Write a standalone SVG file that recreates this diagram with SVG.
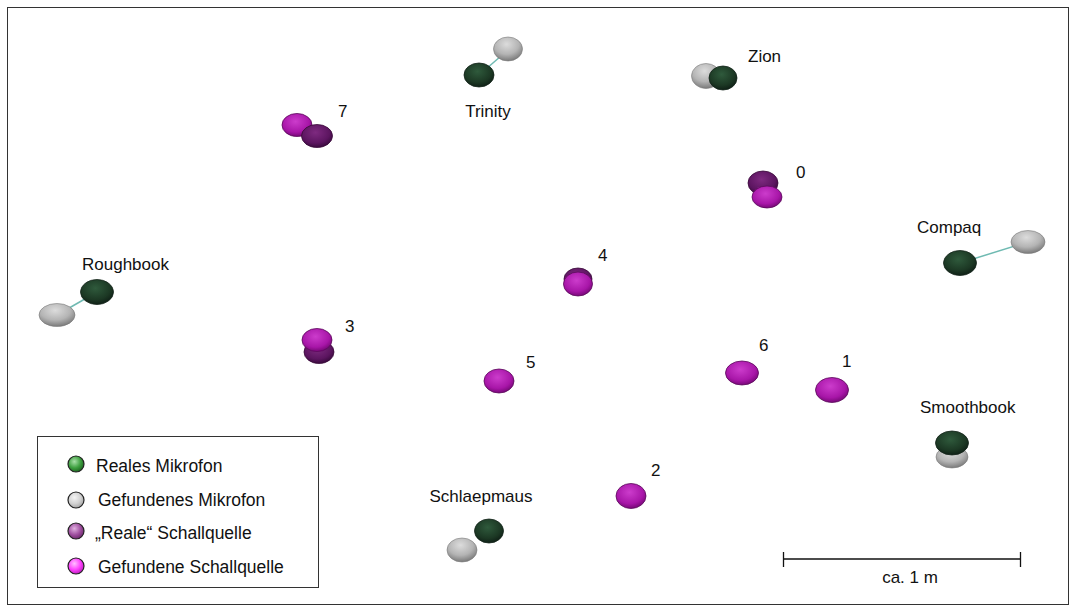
<svg xmlns="http://www.w3.org/2000/svg" width="1070" height="615" viewBox="0 0 1070 615">
  <style>
    text { font-family: "Liberation Sans", Arial, sans-serif; font-size: 17px; fill: #111; }
    .lbl { text-anchor: middle; }
    .legtxt { font-size: 17.5px; }
    .link { stroke: #6fbab2; stroke-width: 1.5; }
    .mic { fill: url(#gMic); stroke: #14241a; stroke-width: 0.8; }
    .found { fill: url(#gFound); stroke: #7a7a7a; stroke-width: 0.6; }
    .src { fill: url(#gSrc); stroke: #3a0a3a; stroke-width: 0.8; }
    .fsrc { fill: url(#gFsrc); stroke: #5a0a5a; stroke-width: 0.8; }
    .leg { stroke: #222; stroke-width: 1.2; }
  </style>
  <defs>
    <radialGradient id="gMic" cx="0.45" cy="0.35" r="0.65">
      <stop offset="0" stop-color="#2f5a3c"/>
      <stop offset="0.7" stop-color="#1c3824"/>
      <stop offset="1" stop-color="#0f2016"/>
    </radialGradient>
    <radialGradient id="gFound" cx="0.45" cy="0.3" r="0.7">
      <stop offset="0" stop-color="#dcdcdc"/>
      <stop offset="0.6" stop-color="#b4b4b4"/>
      <stop offset="1" stop-color="#7a7a7a"/>
    </radialGradient>
    <radialGradient id="gSrc" cx="0.45" cy="0.35" r="0.65">
      <stop offset="0" stop-color="#7e2a80"/>
      <stop offset="0.7" stop-color="#5c1560"/>
      <stop offset="1" stop-color="#3a0a3e"/>
    </radialGradient>
    <radialGradient id="gFsrc" cx="0.45" cy="0.35" r="0.65">
      <stop offset="0" stop-color="#cc3ccc"/>
      <stop offset="0.7" stop-color="#a816a8"/>
      <stop offset="1" stop-color="#780878"/>
    </radialGradient>
    <radialGradient id="lgGreen" cx="0.4" cy="0.35" r="0.65">
      <stop offset="0" stop-color="#a8e0a8"/>
      <stop offset="0.6" stop-color="#3ea040"/>
      <stop offset="1" stop-color="#1f6a22"/>
    </radialGradient>
    <radialGradient id="lgGray" cx="0.4" cy="0.35" r="0.65">
      <stop offset="0" stop-color="#f4f4f4"/>
      <stop offset="0.6" stop-color="#d2d2d2"/>
      <stop offset="1" stop-color="#a8a8a8"/>
    </radialGradient>
    <radialGradient id="lgPurple" cx="0.4" cy="0.35" r="0.65">
      <stop offset="0" stop-color="#e0b0e0"/>
      <stop offset="0.6" stop-color="#a050a0"/>
      <stop offset="1" stop-color="#702a70"/>
    </radialGradient>
    <radialGradient id="lgPink" cx="0.4" cy="0.35" r="0.65">
      <stop offset="0" stop-color="#ffc0ff"/>
      <stop offset="0.6" stop-color="#ff40ff"/>
      <stop offset="1" stop-color="#c020c0"/>
    </radialGradient>
  </defs>

  <rect x="0" y="0" width="1070" height="615" fill="#fff"/>
  <rect x="7.5" y="7.5" width="1061" height="597" fill="none" stroke="#333" stroke-width="1"/>

  <!-- links between real and found microphones -->
  <g id="connectors">
    <line class="link" x1="479" y1="75" x2="508" y2="50"/>
    <line class="link" x1="960" y1="263" x2="1028" y2="242"/>
    <line class="link" x1="97" y1="292" x2="57" y2="315"/>
  </g>

  <!-- microphones -->
  <g id="trinity">
    <ellipse class="found" cx="508" cy="49" rx="14.5" ry="12"/>
    <ellipse class="mic" cx="479" cy="75" rx="15" ry="12"/>
    <text class="lbl" x="488" y="117">Trinity</text>
  </g>
  <g id="zion">
    <ellipse class="found" cx="706" cy="76" rx="14.5" ry="12.5"/>
    <ellipse class="mic" cx="723" cy="78" rx="14" ry="12"/>
    <text x="748" y="62">Zion</text>
  </g>
  <g id="compaq">
    <ellipse class="found" cx="1028" cy="242" rx="17" ry="11.5"/>
    <ellipse class="mic" cx="960" cy="263" rx="16.5" ry="12.5"/>
    <text x="917" y="233">Compaq</text>
  </g>
  <g id="roughbook">
    <ellipse class="mic" cx="97" cy="292" rx="16.5" ry="12.5"/>
    <ellipse class="found" cx="57" cy="315" rx="18" ry="11.5"/>
    <text x="82" y="270">Roughbook</text>
  </g>
  <g id="smoothbook">
    <ellipse class="found" cx="952" cy="457" rx="16" ry="11"/>
    <ellipse class="mic" cx="952" cy="443" rx="16.5" ry="12"/>
    <text x="920" y="413">Smoothbook</text>
  </g>
  <g id="schlaepmaus">
    <ellipse class="found" cx="462" cy="550" rx="15" ry="12"/>
    <ellipse class="mic" cx="489" cy="531" rx="14.5" ry="12"/>
    <text class="lbl" x="481" y="502">Schlaepmaus</text>
  </g>

  <!-- sound sources -->
  <g id="src7">
    <ellipse class="fsrc" cx="297" cy="125" rx="15" ry="11.5"/>
    <ellipse class="src" cx="317" cy="136" rx="15.5" ry="11.5"/>
    <text x="338" y="117">7</text>
  </g>
  <g id="src0">
    <ellipse class="src" cx="763" cy="183" rx="15" ry="12"/>
    <ellipse class="fsrc" cx="767" cy="197" rx="15" ry="11"/>
    <text x="796" y="178">0</text>
  </g>
  <g id="src4">
    <ellipse class="src" cx="578" cy="279" rx="14" ry="11"/>
    <ellipse class="fsrc" cx="578" cy="284" rx="14.5" ry="12"/>
    <text x="598" y="261">4</text>
  </g>
  <g id="src3">
    <ellipse class="src" cx="319" cy="352" rx="15" ry="11.5"/>
    <ellipse class="fsrc" cx="317" cy="340" rx="15" ry="11.5"/>
    <text x="345" y="332">3</text>
  </g>
  <g id="src5">
    <ellipse class="fsrc" cx="499" cy="381" rx="15" ry="12"/>
    <text x="526" y="368">5</text>
  </g>
  <g id="src6">
    <ellipse class="fsrc" cx="742" cy="373" rx="16.5" ry="12"/>
    <text x="759" y="351">6</text>
  </g>
  <g id="src1">
    <ellipse class="fsrc" cx="832" cy="390" rx="16.5" ry="12.5"/>
    <text x="842" y="367">1</text>
  </g>
  <g id="src2">
    <ellipse class="fsrc" cx="631" cy="496" rx="15" ry="12.5"/>
    <text x="651" y="476">2</text>
  </g>

  <!-- legend -->
  <g id="legend">
    <rect x="37.5" y="436.5" width="281" height="151" fill="#fff" stroke="#333" stroke-width="1"/>
    <circle class="leg" cx="76" cy="464" r="8" fill="url(#lgGreen)"/>
    <text class="legtxt" x="96" y="472">Reales Mikrofon</text>
    <circle class="leg" cx="76" cy="500" r="8" fill="url(#lgGray)"/>
    <text class="legtxt" x="98" y="506">Gefundenes Mikrofon</text>
    <circle class="leg" cx="76" cy="531" r="8" fill="url(#lgPurple)"/>
    <text class="legtxt" x="95" y="539">„Reale“ Schallquelle</text>
    <circle class="leg" cx="76" cy="566" r="8" fill="url(#lgPink)"/>
    <text class="legtxt" x="98" y="573">Gefundene Schallquelle</text>
  </g>

  <!-- scale bar -->
  <g id="scale">
    <line x1="783" y1="559" x2="1021" y2="559" stroke="#111" stroke-width="1.3"/>
    <line x1="783.5" y1="552" x2="783.5" y2="567" stroke="#111" stroke-width="1.3"/>
    <line x1="1020.5" y1="552" x2="1020.5" y2="567" stroke="#111" stroke-width="1.3"/>
    <text class="lbl" x="910" y="583">ca. 1 m</text>
  </g>
</svg>
